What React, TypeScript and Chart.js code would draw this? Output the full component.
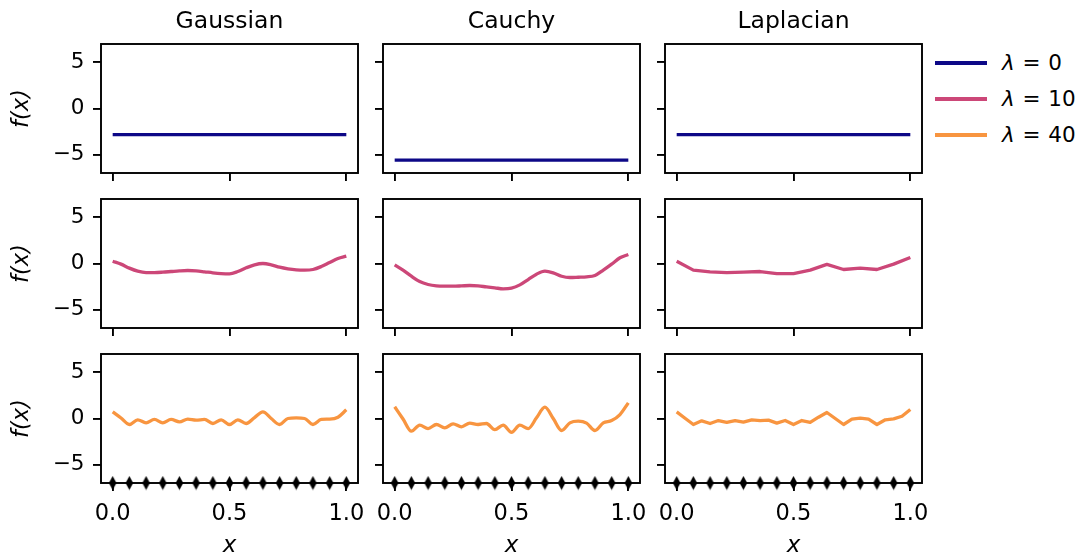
import React, { useEffect, useRef } from 'react';
import { Chart, registerables } from 'chart.js';

Chart.register(...registerables);

// ---------- data ----------
const methods = ['Gaussian', 'Cauchy', 'Laplacian'];
const lambdaLabels = ['0', '10', '40'];
const seriesColors = ['#0d0887', '#cc4778', '#f89540'];
const xTickValues = [0, 0.5, 1];
const yTickValues = [-5, 0, 5];

const xEnds = [0, 1];
const xObs = [0, 0.0714, 0.1429, 0.2143, 0.2857, 0.3571, 0.4286, 0.5, 0.5714, 0.6429, 0.7143, 0.7857, 0.8571, 0.9286, 1];
const xFine = [
  0, 0.0357, 0.0714, 0.1071, 0.1429, 0.1786, 0.2143, 0.25, 0.2857, 0.3214, 0.3571, 0.3929, 0.4286, 0.4643, 0.5,
  0.5357, 0.5714, 0.6071, 0.6429, 0.6786, 0.7143, 0.75, 0.7857, 0.8214, 0.8571, 0.8929, 0.9286, 0.9643, 1,
];
const obsMarkerY = [-7, -7, -7, -7, -7, -7, -7, -7, -7, -7, -7, -7, -7, -7, -7];

// lambda = 0
const lam0Gaussian = [-2.83, -2.83];
const lam0Cauchy = [-5.6, -5.6];
const lam0Laplacian = [-2.83, -2.83];

// lambda = 10
const lam10Gaussian = [
  0.25, -0.07, -0.5, -0.83, -0.98, -0.98, -0.94, -0.87, -0.8, -0.76, -0.8, -0.9, -1.01, -1.09, -1.12,
  -0.87, -0.47, -0.14, 0, -0.14, -0.4, -0.58, -0.69, -0.72, -0.65, -0.33, 0.11, 0.54, 0.8,
];
const lam10Cauchy = [
  -0.14, -0.72, -1.38, -1.96, -2.28, -2.43, -2.46, -2.46, -2.43, -2.39, -2.43, -2.54, -2.64, -2.75, -2.68,
  -2.32, -1.74, -1.16, -0.83, -1.01, -1.38, -1.52, -1.49, -1.45, -1.3, -0.72, -0.07, 0.62, 0.98,
];
const lam10Laplacian = [0.25, -0.72, -0.9, -0.98, -0.94, -0.87, -1.09, -1.09, -0.72, -0.1, -0.65, -0.5, -0.65, -0.07, 0.65];

// lambda = 40
const lam40Gaussian = [
  0.72, 0.05, -0.65, -0.14, -0.47, -0.1, -0.47, -0.1, -0.36, -0.07, -0.18, -0.1, -0.54, -0.14, -0.65,
  -0.14, -0.54, 0.1, 0.72, 0.0, -0.65, 0.0, 0.07, 0.0, -0.65, -0.1, -0.07, 0.14, 0.94,
];
const lam40Cauchy = [
  1.27, -0.05, -1.38, -0.72, -1.09, -0.65, -1.01, -0.58, -0.9, -0.5, -0.65, -0.54, -1.2, -0.72, -1.49,
  -0.72, -1.09, 0.07, 1.23, 0.0, -1.3, -0.47, -0.29, -0.5, -1.3, -0.47, -0.22, 0.43, 1.7,
];
const lam40Laplacian = [
  0.72, 0.03, -0.65, -0.25, -0.54, -0.22, -0.43, -0.22, -0.4, -0.14, -0.22, -0.18, -0.5, -0.22, -0.65,
  -0.22, -0.43, 0.14, 0.65, 0.0, -0.65, -0.07, 0.04, -0.07, -0.65, -0.14, -0.04, 0.25, 0.98,
];

type PanelSpec = { xs: number[]; ys: number[]; smooth: boolean };
const panels: PanelSpec[][] = [
  [
    { xs: xEnds, ys: lam0Gaussian, smooth: false },
    { xs: xEnds, ys: lam0Cauchy, smooth: false },
    { xs: xEnds, ys: lam0Laplacian, smooth: false },
  ],
  [
    { xs: xFine, ys: lam10Gaussian, smooth: true },
    { xs: xFine, ys: lam10Cauchy, smooth: true },
    { xs: xObs, ys: lam10Laplacian, smooth: false },
  ],
  [
    { xs: xFine, ys: lam40Gaussian, smooth: true },
    { xs: xFine, ys: lam40Cauchy, smooth: true },
    { xs: xFine, ys: lam40Laplacian, smooth: false },
  ],
];

// ---------- layout ----------
const FONT = "'DejaVu Sans', 'Liberation Sans', sans-serif";
const colLeft = [101, 383, 665];
const rowTop = [44, 199, 354];
const plotW = 257;
const plotH = 129;
const Y_AXIS_W = 100;
const X_AXIS_H = 77;
const PAD_RIGHT = 10;
const PAD_TOP = 20;
const LINE_W = 3.3;
const FRAME_W = 1.9;

Chart.defaults.font.family = FONT;
Chart.defaults.color = '#000';

function makeDiamond(): HTMLCanvasElement {
  const c = document.createElement('canvas');
  c.width = 9;
  c.height = 15;
  const ctx = c.getContext('2d')!;
  ctx.fillStyle = '#000';
  ctx.beginPath();
  ctx.moveTo(4.5, 0.5);
  ctx.lineTo(8.3, 7.5);
  ctx.lineTo(4.5, 14.5);
  ctx.lineTo(0.7, 7.5);
  ctx.closePath();
  ctx.fill();
  return c;
}

const framePlugin = {
  id: 'frame',
  beforeDatasetsDraw(chart: any) {
    const { ctx, chartArea } = chart;
    ctx.save();
    ctx.strokeStyle = '#000';
    ctx.lineWidth = FRAME_W;
    ctx.strokeRect(chartArea.left, chartArea.top, chartArea.right - chartArea.left, chartArea.bottom - chartArea.top);
    ctx.restore();
  },
};

function Panel({ row, col }: { row: number; col: number }) {
  const ref = useRef<HTMLCanvasElement>(null);
  const top = row === 0 ? 0 : rowTop[row] - PAD_TOP;
  const left = colLeft[col] - Y_AXIS_W;
  const width = Y_AXIS_W + plotW + PAD_RIGHT;
  const height = rowTop[row] - top + plotH + X_AXIS_H;

  useEffect(() => {
    const spec = panels[row][col];
    const datasets: any[] = [
      {
        label: 'λ = ' + lambdaLabels[row],
        data: spec.xs.map((x, i) => ({ x, y: spec.ys[i] })),
        borderColor: seriesColors[row],
        backgroundColor: seriesColors[row],
        borderWidth: LINE_W,
        pointRadius: 0,
        fill: false,
        tension: 0,
        cubicInterpolationMode: spec.smooth ? 'monotone' : 'default',
        borderCapStyle: 'butt',
        borderJoinStyle: 'round',
      },
    ];
    if (row === 2) {
      datasets.push({
        label: 'observations',
        data: xObs.map((x, i) => ({ x, y: obsMarkerY[i] })),
        showLine: false,
        pointStyle: makeDiamond(),
        pointRadius: 6,
        borderColor: '#000',
        backgroundColor: '#000',
        clip: false,
      });
    }
    const chart = new Chart(ref.current!, {
      type: 'line',
      data: { datasets },
      plugins: [framePlugin],
      options: {
        animation: false,
        responsive: false,
        devicePixelRatio: 1,
        events: [],
        layout: { padding: { left: 0, right: PAD_RIGHT, top: row === 0 ? 0 : PAD_TOP, bottom: 0 } },
        plugins: {
          legend: { display: false },
          tooltip: { enabled: false },
          title: {
            display: row === 0,
            text: methods[col],
            color: '#000',
            font: { family: FONT, size: 23.5, weight: 'normal' },
            padding: { top: 7.5, bottom: 8.3 },
            fullSize: false,
          },
        },
        scales: {
          x: {
            type: 'linear',
            min: -0.05,
            max: 1.05,
            afterBuildTicks: (s: any) => {
              s.ticks = xTickValues.map((v) => ({ value: v }));
            },
            afterFit: (s: any) => {
              s.height = X_AXIS_H;
              s.paddingLeft = 0;
              s.paddingRight = 0;
            },
            ticks: {
              display: row === 2,
              autoSkip: false,
              maxRotation: 0,
              color: '#000',
              padding: 9.5,
              font: { family: FONT, size: 22.5 },
              callback: (v: any) => Number(v).toFixed(1),
            },
            grid: {
              display: true,
              drawOnChartArea: false,
              drawTicks: true,
              tickLength: 8,
              tickWidth: FRAME_W,
              tickColor: '#000',
              color: '#000',
              lineWidth: FRAME_W,
            },
            border: { display: false },
            title: {
              display: row === 2,
              text: 'x',
              color: '#000',
              font: { family: FONT, size: 23, style: 'italic' },
              padding: 0,
            },
          },
          y: {
            type: 'linear',
            min: -7,
            max: 7,
            afterBuildTicks: (s: any) => {
              s.ticks = yTickValues.map((v) => ({ value: v }));
            },
            afterFit: (s: any) => {
              s.width = Y_AXIS_W;
              s.paddingTop = 0;
              s.paddingBottom = 0;
            },
            ticks: {
              display: col === 0,
              color: '#000',
              padding: 8.5,
              font: { family: FONT, size: 21.5 },
              callback: (v: any) => (Number(v) < 0 ? '\u2212' + Math.abs(Number(v)) : String(v)),
            },
            grid: {
              display: true,
              drawOnChartArea: false,
              drawTicks: true,
              tickLength: 8,
              tickWidth: FRAME_W,
              tickColor: '#000',
              color: '#000',
              lineWidth: FRAME_W,
            },
            border: { display: false },
            title: {
              display: col === 0,
              text: 'f(x)',
              color: '#000',
              font: { family: FONT, size: 22.5, style: 'italic' },
              padding: { top: 7.5, bottom: 0 },
            },
          },
        },
      } as any,
    });
    return () => chart.destroy();
  }, [row, col]);

  return (
    <canvas
      ref={ref}
      width={width}
      height={height}
      style={{ position: 'absolute', left, top, width, height }}
    />
  );
}

function Legend() {
  const ys = [63, 99, 135];
  return (
    <>
      {lambdaLabels.map((lab, i) => (
        <React.Fragment key={lab}>
          <div
            style={{
              position: 'absolute',
              left: 935,
              top: ys[i] - 1.6,
              width: 52,
              height: 3.2,
              background: seriesColors[i],
            }}
          />
          <div
            style={{
              position: 'absolute',
              left: 1002,
              top: ys[i] - 14,
              height: 28,
              lineHeight: '28px',
              fontFamily: FONT,
              fontSize: 21.5,
              color: '#000',
              whiteSpace: 'nowrap',
            }}
          >
            <span style={{ fontStyle: 'italic' }}>λ</span>
            <span style={{ margin: '0 0.36em' }}>=</span>
            <span>{lab}</span>
          </div>
        </React.Fragment>
      ))}
    </>
  );
}

export default function App() {
  return (
    <div
      style={{
        position: 'fixed',
        left: 0,
        top: 0,
        width: 1079,
        height: 557,
        overflow: 'hidden',
        background: '#fff',
      }}
    >
      {[0, 1, 2].map((r) => [0, 1, 2].map((c) => <Panel key={`${r}-${c}`} row={r} col={c} />))}
      <Legend />
    </div>
  );
}
